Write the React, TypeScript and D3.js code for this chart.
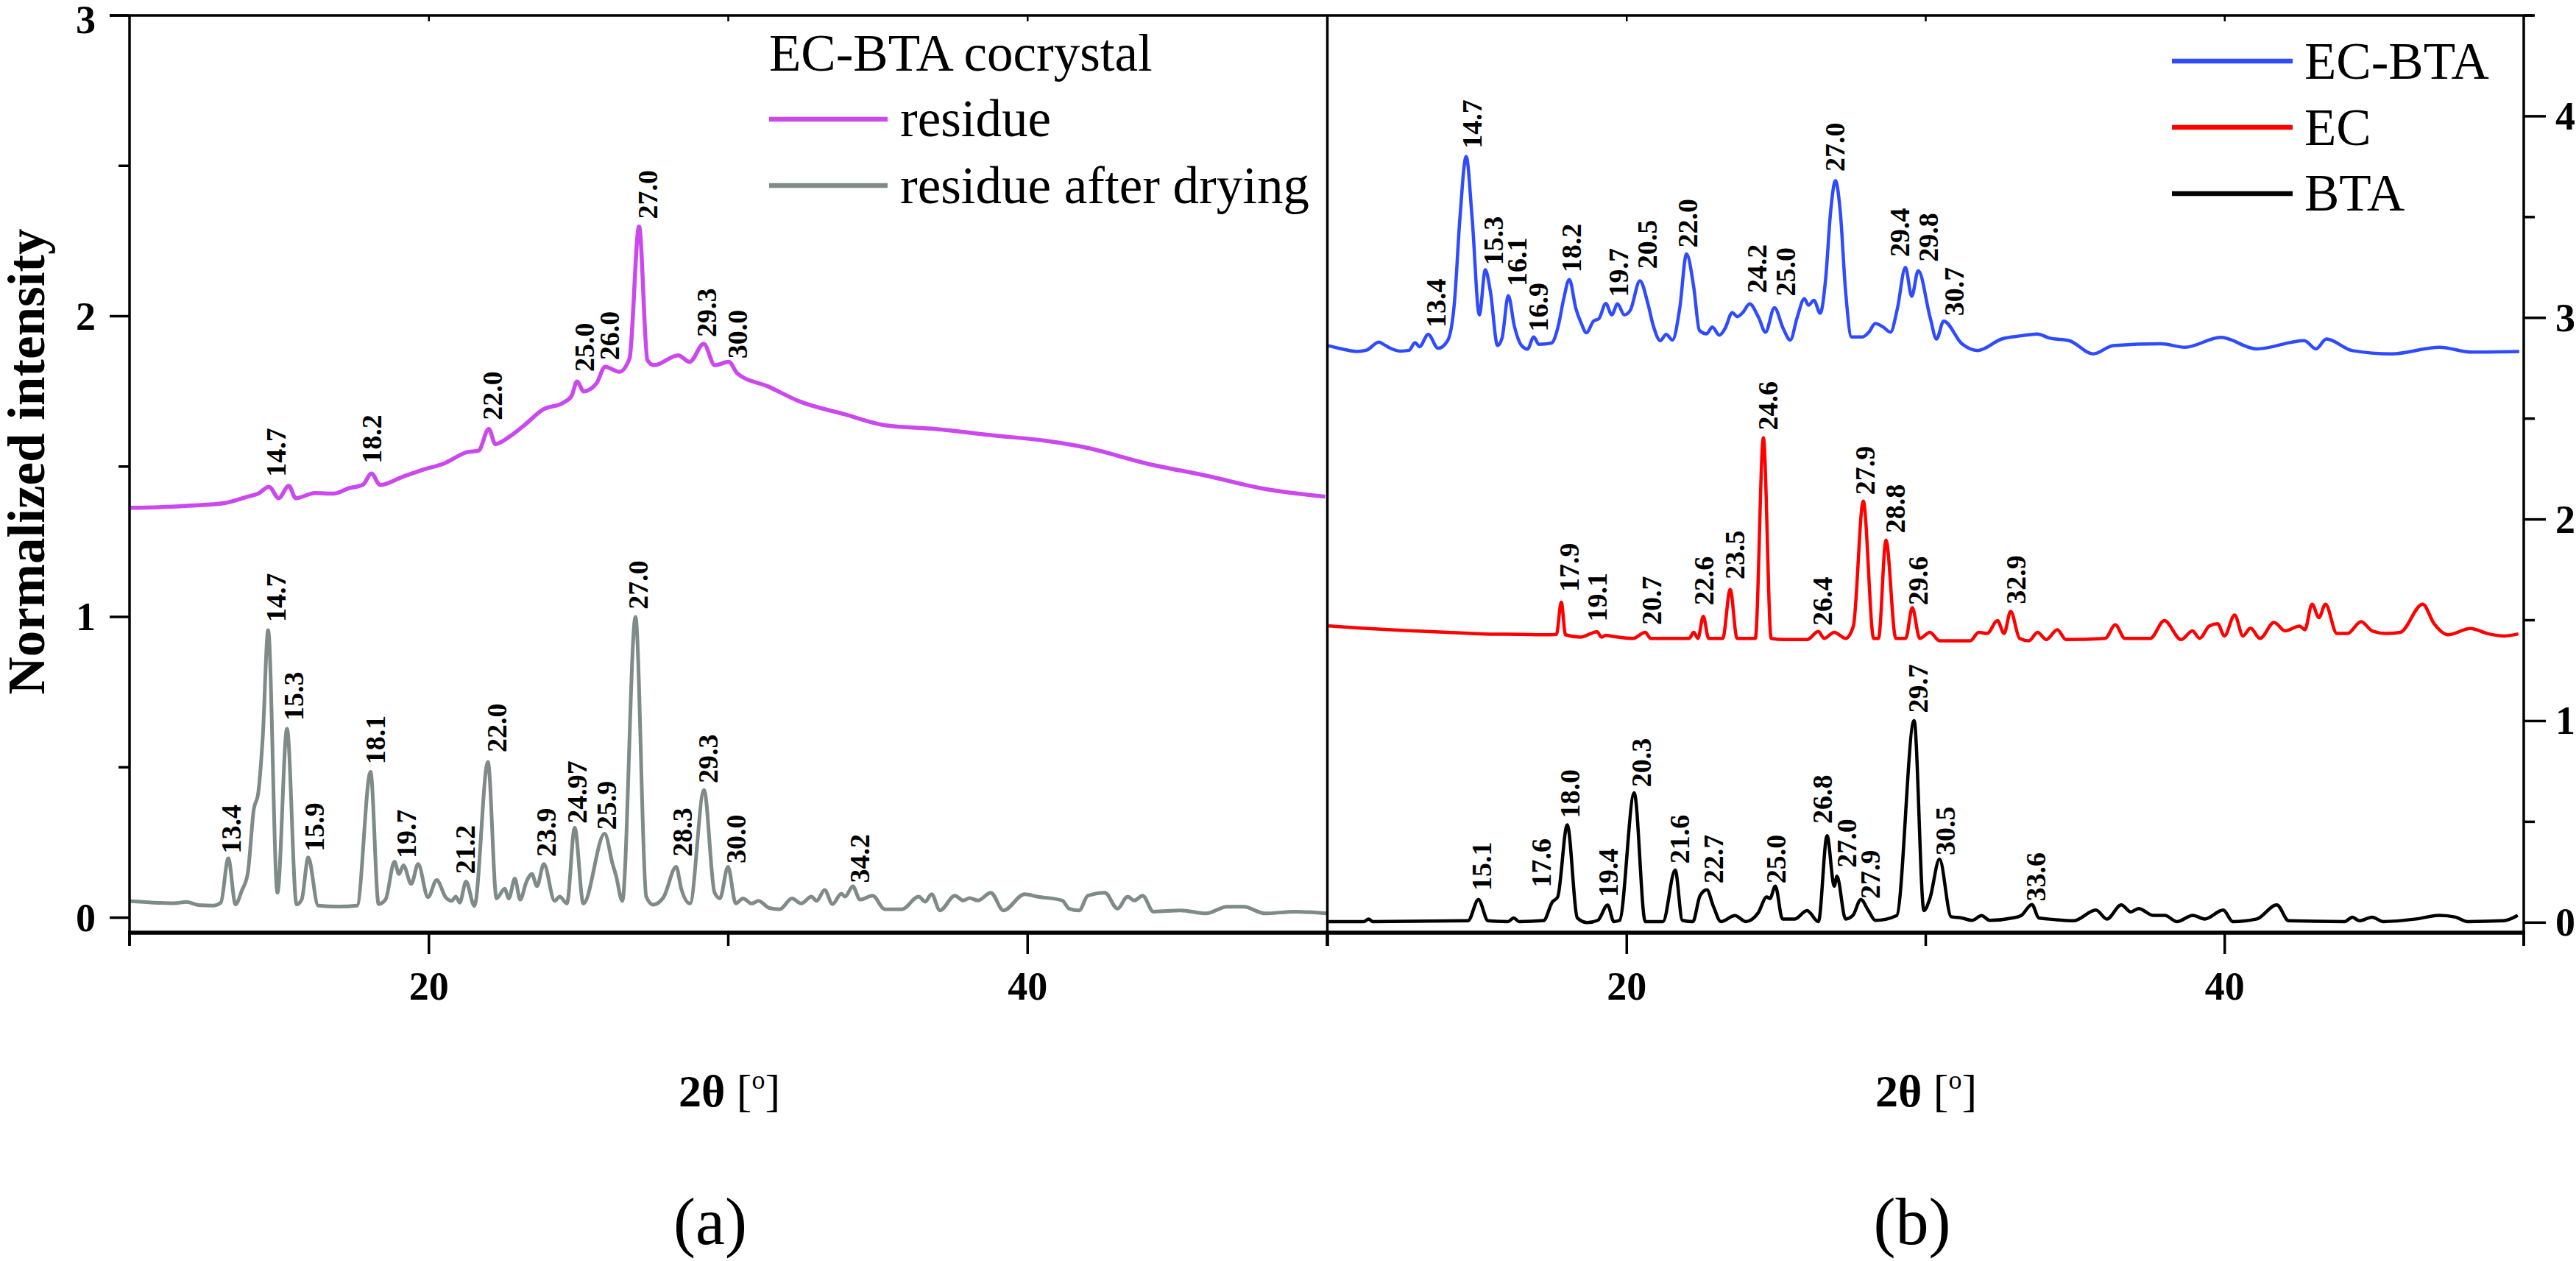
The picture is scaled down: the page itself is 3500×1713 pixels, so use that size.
import React from 'react';
import * as d3 from 'd3';

type Pt = [number, number];
type Lab = [string, number, number];

// ---------- data (2θ in degrees, normalized intensity) ----------
const residue: Pt[] = [
  [10.04, 1.363], [11.0, 1.365], [12.0, 1.37], [13.2, 1.379], [13.95, 1.4], [14.3, 1.41],
  [14.66, 1.433], [14.98, 1.395], [15.32, 1.436], [15.55, 1.395], [16.2, 1.412], [16.8, 1.41],
  [17.33, 1.428], [17.8, 1.44], [18.08, 1.477], [18.37, 1.439], [19.1, 1.465], [19.78, 1.489],
  [20.5, 1.51], [21.28, 1.548], [21.66, 1.553], [22.0, 1.625], [22.22, 1.575], [22.7, 1.6],
  [23.16, 1.635], [23.82, 1.69], [24.48, 1.712], [24.76, 1.734], [24.95, 1.783], [25.17, 1.75],
  [25.6, 1.777], [25.89, 1.832], [26.36, 1.815], [26.7, 1.859], [27.02, 2.298], [27.3, 1.854],
  [27.52, 1.837], [28.33, 1.87], [28.71, 1.848], [29.18, 1.908], [29.55, 1.837], [30.02, 1.848],
  [30.3, 1.81], [31.34, 1.766], [32.37, 1.717], [33.88, 1.674], [35.2, 1.638], [36.93, 1.625],
  [38.91, 1.603], [40.6, 1.586], [41.87, 1.565], [43.98, 1.51], [46.09, 1.467], [47.79, 1.428],
  [49.94, 1.4],
];

const residueDried: Pt[] = [
  [10.0, 0.055], [10.8, 0.05], [11.5, 0.048], [11.9, 0.052], [12.3, 0.042], [12.8, 0.04],
  [13.05, 0.05], [13.3, 0.197], [13.54, 0.044], [13.75, 0.09], [13.95, 0.148], [14.15, 0.36],
  [14.3, 0.415], [14.45, 0.6], [14.63, 0.956], [14.94, 0.083], [15.26, 0.628], [15.58, 0.044],
  [15.75, 0.06], [15.97, 0.2], [16.3, 0.04], [17.0, 0.037], [17.6, 0.04], [18.05, 0.485],
  [18.32, 0.045], [18.55, 0.06], [18.85, 0.186], [19.0, 0.145], [19.15, 0.174], [19.41, 0.112],
  [19.64, 0.178], [19.97, 0.068], [20.26, 0.125], [20.56, 0.068], [20.76, 0.056], [20.9, 0.07],
  [21.03, 0.05], [21.24, 0.12], [21.52, 0.039], [21.97, 0.518], [22.26, 0.064], [22.53, 0.096],
  [22.67, 0.064], [22.87, 0.13], [23.05, 0.06], [23.26, 0.12], [23.44, 0.145], [23.61, 0.105],
  [23.84, 0.178], [24.2, 0.056], [24.37, 0.07], [24.61, 0.047], [24.87, 0.299], [25.16, 0.047],
  [25.87, 0.279], [26.14, 0.177], [26.25, 0.14], [26.46, 0.056], [26.9, 1.0], [27.26, 0.07],
  [27.49, 0.043], [27.84, 0.068], [28.26, 0.169], [28.43, 0.096], [28.72, 0.047], [29.19, 0.424],
  [29.54, 0.084], [29.72, 0.064], [29.99, 0.169], [30.25, 0.047], [30.49, 0.064], [30.78, 0.047],
  [31.01, 0.056], [31.37, 0.032], [31.72, 0.028], [32.13, 0.064], [32.43, 0.047], [32.78, 0.07],
  [32.95, 0.056], [33.22, 0.092], [33.48, 0.045], [33.78, 0.08], [33.9, 0.07], [34.16, 0.104],
  [34.4, 0.06], [34.82, 0.073], [35.23, 0.028], [35.8, 0.028], [36.36, 0.07], [36.58, 0.053],
  [36.79, 0.078], [37.07, 0.024], [37.57, 0.073], [37.85, 0.057], [38.06, 0.065], [38.34, 0.057],
  [38.77, 0.083], [39.19, 0.024], [39.9, 0.078], [40.32, 0.07], [41.16, 0.057], [41.38, 0.03],
  [41.72, 0.024], [42.01, 0.073], [42.58, 0.083], [43.0, 0.03], [43.34, 0.07], [43.56, 0.057],
  [43.84, 0.073], [44.2, 0.02], [45.11, 0.024], [45.96, 0.014], [46.66, 0.036], [47.22, 0.036],
  [47.93, 0.014], [48.92, 0.02], [50.0, 0.014],
];

const ecbta: Pt[] = [
  [10.02, 2.862], [10.5, 2.845], [10.97, 2.833], [11.3, 2.84], [11.71, 2.88], [11.85, 2.87],
  [12.03, 2.854], [12.43, 2.835], [12.72, 2.839], [12.92, 2.877], [13.07, 2.857], [13.36, 2.918],
  [13.69, 2.849], [14.01, 2.887], [14.24, 3.081], [14.42, 3.493], [14.63, 3.801], [14.83, 3.493],
  [15.07, 3.015], [15.27, 3.238], [15.44, 3.13], [15.68, 2.863], [15.83, 2.9], [16.04, 3.11],
  [16.24, 2.96], [16.48, 2.863], [16.68, 2.845], [16.89, 2.905], [17.06, 2.869], [17.48, 2.875],
  [17.71, 2.96], [17.89, 3.093], [18.08, 3.19], [18.3, 3.045], [18.48, 2.972], [18.65, 2.926],
  [18.89, 2.984], [19.07, 2.996], [19.3, 3.071], [19.5, 3.015], [19.69, 3.069], [19.92, 3.015],
  [20.12, 3.038], [20.44, 3.184], [20.71, 3.069], [20.89, 2.96], [21.12, 2.887], [21.32, 2.918],
  [21.53, 2.89], [21.77, 3.045], [22.0, 3.317], [22.24, 3.153], [22.43, 2.938], [22.67, 2.921],
  [22.86, 2.954], [23.1, 2.914], [23.29, 2.948], [23.53, 3.026], [23.7, 3.006], [23.88, 3.026],
  [24.11, 3.069], [24.41, 3.002], [24.64, 2.929], [24.94, 3.05], [25.23, 2.948], [25.47, 2.89],
  [25.7, 3.002], [25.94, 3.095], [26.08, 3.063], [26.26, 3.087], [26.47, 3.023], [26.65, 3.19],
  [26.82, 3.529], [26.98, 3.68], [27.14, 3.529], [27.32, 3.13], [27.52, 2.905], [27.88, 2.905],
  [28.1, 2.929], [28.31, 2.972], [28.58, 2.954], [28.82, 2.929], [29.05, 3.045], [29.32, 3.25],
  [29.53, 3.107], [29.75, 3.234], [30.15, 3.0], [30.36, 2.895], [30.6, 2.984], [31.21, 2.871],
  [31.74, 2.838], [32.54, 2.895], [33.2, 2.911], [33.73, 2.92], [34.13, 2.9], [34.8, 2.887],
  [35.6, 2.821], [36.27, 2.862], [37.87, 2.871], [38.67, 2.854], [39.87, 2.903], [41.06, 2.846],
  [42.66, 2.887], [43.05, 2.846], [43.4, 2.895], [44.25, 2.838], [45.58, 2.821], [47.18, 2.854],
  [48.25, 2.83], [49.85, 2.833],
];

const ec: Pt[] = [
  [10.03, 1.472], [11.0, 1.462], [12.57, 1.449], [14.0, 1.44], [15.23, 1.432], [16.5, 1.43],
  [17.27, 1.428], [17.65, 1.43], [17.81, 1.59], [17.95, 1.428], [18.45, 1.416], [19.01, 1.443],
  [19.15, 1.416], [19.3, 1.425], [19.45, 1.422], [20.21, 1.41], [20.62, 1.44], [20.8, 1.41],
  [21.5, 1.41], [22.09, 1.41], [22.24, 1.44], [22.38, 1.41], [22.56, 1.519], [22.74, 1.41],
  [23.21, 1.41], [23.46, 1.653], [23.69, 1.41], [24.3, 1.41], [24.57, 2.405], [24.83, 1.41],
  [25.28, 1.404], [26.03, 1.404], [26.41, 1.444], [26.6, 1.41], [26.94, 1.44], [27.32, 1.41],
  [27.58, 1.471], [27.91, 2.091], [28.26, 1.41], [28.42, 1.41], [28.67, 1.897], [29.0, 1.41],
  [29.33, 1.41], [29.55, 1.562], [29.8, 1.41], [30.14, 1.44], [30.46, 1.398], [31.49, 1.398],
  [31.77, 1.44], [32.05, 1.434], [32.4, 1.498], [32.62, 1.434], [32.84, 1.544], [33.14, 1.41],
  [33.45, 1.398], [33.74, 1.44], [34.03, 1.404], [34.4, 1.453], [34.69, 1.404], [36.0, 1.41],
  [36.34, 1.477], [36.66, 1.41], [37.51, 1.41], [37.98, 1.498], [38.54, 1.404], [38.92, 1.447],
  [39.16, 1.41], [39.48, 1.471], [39.76, 1.483], [39.99, 1.422], [40.33, 1.526], [40.61, 1.422],
  [40.86, 1.461], [41.18, 1.41], [41.65, 1.489], [42.02, 1.447], [42.5, 1.471], [42.68, 1.453],
  [42.92, 1.58], [43.15, 1.513], [43.37, 1.58], [43.75, 1.434], [44.1, 1.434], [44.56, 1.493],
  [44.93, 1.447], [45.4, 1.434], [45.87, 1.44], [46.62, 1.58], [47.0, 1.483], [47.47, 1.428],
  [48.22, 1.459], [48.78, 1.434], [49.35, 1.422], [49.82, 1.432],
];

const bta: Pt[] = [
  [10.03, 0.005], [11.2, 0.005], [11.37, 0.018], [11.5, 0.005], [14.69, 0.009], [15.04, 0.114],
  [15.36, 0.009], [16.03, 0.005], [16.22, 0.023], [16.4, 0.005], [17.22, 0.01], [17.51, 0.102],
  [17.69, 0.127], [18.01, 0.485], [18.35, 0.023], [18.68, 0.0], [19.03, 0.011], [19.36, 0.087],
  [19.57, 0.005], [19.76, 0.011], [20.25, 0.644], [20.62, 0.005], [21.21, 0.005], [21.62, 0.26],
  [21.86, 0.011], [22.21, 0.005], [22.45, 0.133], [22.68, 0.163], [22.89, 0.084], [23.15, 0.005],
  [23.62, 0.035], [23.98, 0.005], [24.39, 0.047], [24.68, 0.127], [24.79, 0.12], [24.97, 0.181],
  [25.21, 0.018], [25.62, 0.018], [26.03, 0.06], [26.41, 0.005], [26.7, 0.431], [26.94, 0.181],
  [27.03, 0.23], [27.32, 0.018], [27.56, 0.035], [27.83, 0.114], [28.08, 0.06], [28.32, 0.011],
  [29.03, 0.035], [29.61, 1.002], [29.94, 0.06], [30.14, 0.12], [30.46, 0.315], [30.85, 0.029],
  [31.2, 0.023], [31.55, 0.011], [31.87, 0.035], [32.14, 0.011], [32.9, 0.023], [33.19, 0.035],
  [33.55, 0.09], [33.78, 0.023], [34.08, 0.018], [34.94, 0.009], [35.69, 0.062], [36.06, 0.018],
  [36.54, 0.088], [36.86, 0.053], [37.12, 0.07], [37.6, 0.036], [38.0, 0.036], [38.4, 0.005],
  [38.93, 0.036], [39.33, 0.018], [39.95, 0.062], [40.27, 0.005], [41.07, 0.018], [41.74, 0.088],
  [42.14, 0.009], [44.0, 0.005], [44.27, 0.027], [44.5, 0.009], [44.93, 0.027], [45.3, 0.005],
  [46.4, 0.018], [47.19, 0.036], [47.72, 0.027], [48.12, 0.005], [49.32, 0.009], [49.8, 0.036],
];

// peak labels: [text, 2θ, intensity at label start]
const residueLabels: Lab[] = [
  ['14.7', 14.89, 1.466], ['18.2', 18.08, 1.51], ['22.0', 22.13, 1.654], ['25.0', 25.19, 1.815],
  ['26.0', 26.02, 1.854], ['27.0', 27.3, 2.323], ['29.3', 29.27, 1.93], ['30.0', 30.31, 1.859],
];
const driedLabels: Lab[] = [
  ['13.4', 13.39, 0.213], ['14.7', 14.89, 0.983], ['15.3', 15.49, 0.655], ['15.9', 16.16, 0.22],
  ['18.1', 18.2, 0.51], ['19.7', 19.25, 0.197], ['21.2', 21.22, 0.145], ['22.0', 22.26, 0.55],
  ['23.9', 23.92, 0.202], ['24.97', 24.95, 0.313], ['25.9', 25.92, 0.292], ['27.0', 26.98, 1.025],
  ['28.3', 28.47, 0.203], ['29.3', 29.32, 0.447], ['30.0', 30.26, 0.18], ['34.2', 34.39, 0.115],
];
const ecbtaLabels: Lab[] = [
  ['13.4', 13.62, 2.952], ['14.7', 14.83, 3.84], ['15.3', 15.55, 3.261], ['16.1', 16.33, 3.156],
  ['16.9', 17.05, 2.932], ['18.2', 18.14, 3.225], ['19.7', 19.72, 3.103], ['20.5', 20.68, 3.243],
  ['22.0', 22.03, 3.348], ['24.2', 24.34, 3.122], ['25.0', 25.3, 3.107], ['27.0', 26.95, 3.726],
  ['29.4', 29.13, 3.302], ['29.8', 30.09, 3.278], ['30.7', 30.95, 3.009],
];
const ecLabels: Lab[] = [
  ['17.9', 18.08, 1.641], ['19.1', 19.02, 1.493], ['20.7', 20.82, 1.476], ['22.6', 22.58, 1.574],
  ['23.5', 23.62, 1.703], ['24.6', 24.71, 2.442], ['26.4', 26.53, 1.473], ['27.9', 27.96, 2.122],
  ['28.8', 28.98, 1.932], ['29.6', 29.75, 1.574], ['32.9', 33.01, 1.58],
];
const btaLabels: Lab[] = [
  ['15.1', 15.15, 0.158], ['17.6', 17.15, 0.175], ['18.0', 18.1, 0.518], ['19.4', 19.37, 0.125],
  ['20.3', 20.48, 0.672], ['21.6', 21.76, 0.292], ['22.7', 22.9, 0.194], ['25.0', 25.0, 0.194],
  ['26.8', 26.55, 0.49], ['27.0', 27.35, 0.272], ['27.9', 28.15, 0.118], ['29.7', 29.73, 1.04],
  ['30.5', 30.64, 0.333], ['33.6', 33.68, 0.105],
];

const leftLegend = ['residue', 'residue after drying'];
const rightLegend = ['EC-BTA', 'EC', 'BTA'];
const leftYMajor = [0, 1, 2, 3];
const leftYMinor = [0.5, 1.5, 2.5];
const rightYMajor = [0, 1, 2, 3, 4];
const rightYMinor = [0.5, 1.5, 2.5, 3.5, 4.5];
const xMajor = [20, 40];
const xMinor = [10, 30, 50];
const xTop = [20, 30, 40];

const FONT = '"Liberation Serif", "Times New Roman", Times, serif';
const C_RES = '#CB48EE';
const C_DRY = '#7F8B89';
const C_BLUE = '#2F4BFF';
const C_RED = '#FF0000';
const C_BLK = '#000000';

export default function App() {
  const xL = d3.scaleLinear().domain([10, 50]).range([176, 1803]);
  const xR = d3.scaleLinear().domain([10, 50]).range([1804, 3429]);
  const yL = d3.scaleLinear().domain([-0.05, 3]).range([1267, 21]);
  const yR = d3.scaleLinear().domain([-0.05, 4.5]).range([1267, 21]);

  const lineL = d3.line<Pt>().x(d => xL(d[0])).y(d => yL(d[1])).curve(d3.curveMonotoneX);
  const lineR = d3.line<Pt>().x(d => xR(d[0])).y(d => yR(d[1])).curve(d3.curveMonotoneX);

  const labels = (labs: Lab[], x: any, y: any, key: string) =>
    labs.map(([t, lx, ly], i) => (
      <text
        key={key + i}
        transform={`translate(${x(lx)},${y(ly)}) rotate(-90)`}
        fontSize={38}
        fontWeight="bold"
        dominantBaseline="central"
        fontFamily={FONT}
        fill="#000"
      >
        {t}
      </text>
    ));

  const axisStroke = 3.5;
  const bottomY = 1267;

  const xTicks = (x: any, key: string) => (
    <g key={key}>
      {xMajor.map(v => (
        <line key={'M' + v} x1={x(v)} x2={x(v)} y1={bottomY} y2={bottomY + 29} stroke="#000" strokeWidth={axisStroke} />
      ))}
      {xMinor.map(v => (
        <line key={'m' + v} x1={x(v)} x2={x(v)} y1={bottomY} y2={bottomY + 18} stroke="#000" strokeWidth={axisStroke} />
      ))}
      {xTop.map(v => (
        <line key={'t' + v} x1={x(v)} x2={x(v)} y1={21} y2={29} stroke="#000" strokeWidth={2.5} />
      ))}
      {xMajor.map(v => (
        <text key={'l' + v} x={x(v)} y={1358} textAnchor="middle" fontSize={54} fontWeight="bold" fontFamily={FONT}>
          {v}
        </text>
      ))}
    </g>
  );

  const xTitle = (cx: number) => (
    <text x={cx} y={1503} textAnchor="middle" fontSize={62} fontFamily={FONT}>
      <tspan fontWeight="bold">2θ</tspan>
      <tspan> [</tspan>
      <tspan fontSize={36} dy={-24}>o</tspan>
      <tspan dy={24}>]</tspan>
    </text>
  );

  return (
    <svg
      width={3500}
      height={1713}
      viewBox="0 0 3500 1713"
      style={{ position: 'absolute', left: 0, top: 0, display: 'block', background: '#fff' }}
      fontFamily={FONT}
    >
      <rect x={0} y={0} width={3500} height={1713} fill="#fff" />

      {/* curves */}
      <path d={lineL(residueDried) || ''} fill="none" stroke={C_DRY} strokeWidth={5} strokeLinejoin="round" />
      <path d={lineL(residue) || ''} fill="none" stroke={C_RES} strokeWidth={5.5} strokeLinejoin="round" />
      <path d={lineR(bta) || ''} fill="none" stroke={C_BLK} strokeWidth={4.5} strokeLinejoin="round" />
      <path d={lineR(ec) || ''} fill="none" stroke={C_RED} strokeWidth={4.5} strokeLinejoin="round" />
      <path d={lineR(ecbta) || ''} fill="none" stroke={C_BLUE} strokeWidth={4.5} strokeLinejoin="round" />

      {/* peak labels */}
      {labels(residueLabels, xL, yL, 'rl')}
      {labels(driedLabels, xL, yL, 'dl')}
      {labels(ecbtaLabels, xR, yR, 'bl')}
      {labels(ecLabels, xR, yR, 'el')}
      {labels(btaLabels, xR, yR, 'tl')}

      {/* frame */}
      <line x1={149} x2={3442} y1={21} y2={21} stroke="#000" strokeWidth={axisStroke} />
      <line x1={176} x2={176} y1={21} y2={bottomY + 18} stroke="#000" strokeWidth={axisStroke} />
      <line x1={1803.5} x2={1803.5} y1={21} y2={bottomY + 18} stroke="#000" strokeWidth={axisStroke} />
      <line x1={3429} x2={3429} y1={21} y2={bottomY + 18} stroke="#000" strokeWidth={axisStroke} />
      <line x1={174} x2={3431} y1={bottomY} y2={bottomY} stroke="#000" strokeWidth={5.5} />

      {/* left y ticks */}
      {leftYMajor.map(v => (
        <g key={'ly' + v}>
          <line x1={149} x2={176} y1={yL(v)} y2={yL(v)} stroke="#000" strokeWidth={axisStroke} />
          <text x={130} y={Math.max(yL(v), 27)} textAnchor="end" dominantBaseline="central" fontSize={54} fontWeight="bold" fontFamily={FONT}>
            {v}
          </text>
        </g>
      ))}
      {leftYMinor.map(v => (
        <line key={'lym' + v} x1={161} x2={176} y1={yL(v)} y2={yL(v)} stroke="#000" strokeWidth={axisStroke} />
      ))}

      {/* right y ticks */}
      {rightYMajor.map(v => (
        <g key={'ry' + v}>
          <line x1={3429} x2={3459} y1={yR(v)} y2={yR(v)} stroke="#000" strokeWidth={axisStroke} />
          <text x={3472} y={yR(v)} textAnchor="start" dominantBaseline="central" fontSize={54} fontWeight="bold" fontFamily={FONT}>
            {v}
          </text>
        </g>
      ))}
      {rightYMinor.map(v => (
        <line key={'rym' + v} x1={3429} x2={3444} y1={yR(v)} y2={yR(v)} stroke="#000" strokeWidth={axisStroke} />
      ))}

      {xTicks(xL, 'xl')}
      {xTicks(xR, 'xr')}

      {/* axis titles */}
      <text
        transform="translate(60,627) rotate(-90)"
        textAnchor="middle"
        fontSize={71}
        fontWeight="bold"
        fontFamily={FONT}
      >
        Normalized intensity
      </text>
      {xTitle(991)}
      {xTitle(2617)}

      <text x={965} y={1690} textAnchor="middle" fontSize={90} fontFamily={FONT}>(a)</text>
      <text x={2598} y={1690} textAnchor="middle" fontSize={90} fontFamily={FONT}>(b)</text>

      {/* left legend */}
      <text x={1045} y={96} fontSize={71} fontFamily={FONT}>EC-BTA cocrystal</text>
      {leftLegend.map((t, i) => (
        <g key={'lg' + i}>
          <line x1={1045} x2={1206} y1={162 + i * 90} y2={162 + i * 90} stroke={i === 0 ? C_RES : C_DRY} strokeWidth={6.5} />
          <text x={1223} y={185 + i * 91} fontSize={71} fontFamily={FONT}>{t}</text>
        </g>
      ))}

      {/* right legend */}
      {rightLegend.map((t, i) => (
        <g key={'rg' + i}>
          <line x1={2951} x2={3115} y1={83 + i * 90} y2={83 + i * 90} stroke={[C_BLUE, C_RED, C_BLK][i]} strokeWidth={6.5} />
          <text x={3131} y={107 + i * 89.5} fontSize={71} fontFamily={FONT}>{t}</text>
        </g>
      ))}
    </svg>
  );
}
